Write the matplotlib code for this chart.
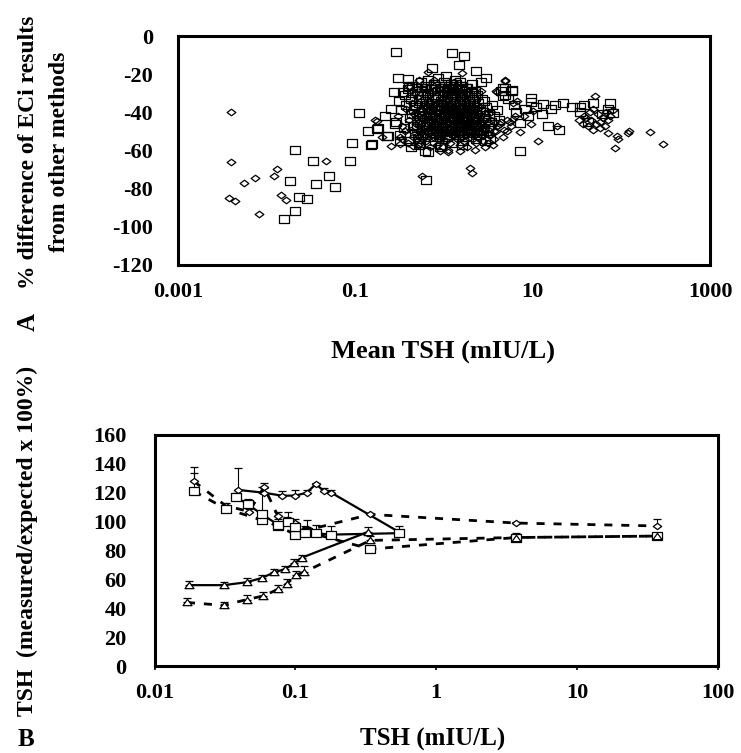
import numpy as np
import matplotlib
matplotlib.use("Agg")
import matplotlib.pyplot as plt
from matplotlib.path import Path
from matplotlib.ticker import FixedLocator, NullLocator

plt.rcParams['font.family'] = ['Liberation Serif', 'DejaVu Serif']
plt.rcParams['font.weight'] = 'bold'

# ---------------- panel A: % difference vs mean TSH ----------------
# squares (cloud + scattered points)
sq_tsh = [
    0.31, 0.33, 0.29, 0.36, 0.35, 0.32, 0.39, 0.37, 0.41, 0.40,
    0.44, 0.42, 0.46, 0.45, 0.47, 0.43, 0.50, 0.49, 0.52, 0.51,
    0.55, 0.53, 0.57, 0.58, 0.56, 0.54, 0.61, 0.59, 0.63, 0.62,
    0.66, 0.65, 0.68, 0.70, 0.67, 0.69, 0.73, 0.71, 0.76, 0.74,
    0.78, 0.80, 0.77, 0.82, 0.81, 0.79, 0.86, 0.84, 0.88, 0.87,
    0.90, 0.93, 0.91, 0.95, 0.97, 0.92, 1.00, 0.98, 1.03, 1.02,
    1.06, 1.08, 1.05, 1.10, 1.12, 1.07, 1.15, 1.14, 1.18, 1.17,
    1.21, 1.24, 1.20, 1.26, 1.28, 1.23, 1.32, 1.30, 1.35, 1.34,
    1.38, 1.41, 1.40, 1.44, 1.46, 1.42, 1.50, 1.48, 1.54, 1.52,
    1.58, 1.61, 1.57, 1.65, 1.68, 1.63, 1.72, 1.70, 1.76, 1.74,
    1.80, 1.84, 1.82, 1.88, 1.92, 1.86, 1.97, 1.95, 2.02, 2.00,
    2.06, 2.10, 2.08, 2.15, 2.20, 2.13, 2.26, 2.24, 2.32, 2.30,
    2.38, 2.44, 2.41, 2.52, 2.58, 2.48, 2.66, 2.63, 2.75, 2.72,
    2.85, 2.92, 3.00, 3.10, 3.22, 3.35, 3.50, 3.70, 3.95, 4.20,
    0.47, 0.52, 0.49, 0.56, 0.54, 0.60, 0.58, 0.64, 0.62, 0.68,
    0.66, 0.72, 0.70, 0.76, 0.74, 0.81, 0.79, 0.85, 0.83, 0.89,
    0.87, 0.94, 0.92, 0.99, 0.96, 1.04, 1.01, 1.09, 1.06, 1.13,
    1.11, 1.19, 1.16, 1.25, 1.22, 1.31, 1.28, 1.37, 1.34, 1.43,
    1.40, 1.50, 1.46, 1.57, 1.53, 1.64, 1.60, 1.72, 1.68, 1.80,
    1.76, 1.89, 1.84, 1.98, 1.93, 2.08, 2.03, 2.18, 2.13, 2.30,
    0.43, 0.50, 0.57, 0.63, 0.71, 0.78, 0.86, 0.95, 1.02, 1.10,
    1.18, 1.27, 1.36, 1.46, 1.55, 1.66, 1.78, 1.90, 2.05, 2.22,
    0.29, 1.22, 1.68, 1.49, 2.28, 0.74, 0.395, 0.275, 0.347, 0.40,
    0.216, 0.235, 0.61, 0.153, 0.174, 5.8, 4.67, 4.67, 4.4, 0.25,
    0.30, 0.28, 0.32, 0.52, 0.90, 1.60, 2.90, 3.30, 4.90, 4.90,
    5.8, 3.0, 5.3, 6.2, 2.6, 0.42, 0.111, 0.14, 0.18, 0.226,
    0.092, 0.149, 0.0207, 0.0333, 0.086, 0.050, 0.0185, 0.0363, 0.059, 0.023,
    0.0287, 0.0211, 0.0156, 0.62, 0.66, 7.2, 7.2, 9.7, 9.7, 13.0,
    16.3, 22.0, 27.5, 34.0, 34.0, 12.6, 15.0, 20.0, 48.0, 74.5,
    81.0, 8.2, 8.8, 6.5, 11.0, 18.0, 60.0, 42.0, 70.0, 38.0,
]
sq_pct = [
    -34, -39, -45, -31, -48, -52, -28, -36, -43, -55,
    -26, -33, -38, -47, -51, -41, -29, -44, -35, -54,
    -24, -31, -37, -42, -49, -56, -27, -45, -34, -52,
    -23, -30, -36, -40, -46, -53, -28, -43, -33, -50,
    -25, -32, -39, -44, -48, -55, -22, -37, -41, -52,
    -27, -34, -38, -45, -50, -57, -24, -31, -42, -47,
    -21, -29, -35, -40, -44, -53, -26, -37, -49, -33,
    -25, -30, -38, -43, -51, -56, -23, -35, -46, -40,
    -28, -33, -39, -45, -52, -48, -24, -36, -42, -31,
    -26, -32, -37, -43, -50, -55, -29, -40, -47, -34,
    -27, -31, -38, -44, -49, -53, -35, -41, -46, -30,
    -25, -33, -39, -43, -51, -36, -29, -47, -41, -54,
    -31, -35, -44, -49, -38, -52, -33, -46, -40, -50,
    -34, -43, -37, -48, -41, -45, -36, -42, -39, -44,
    -36, -42, -48, -33, -45, -39, -51, -36, -47, -42,
    -31, -38, -45, -50, -35, -41, -47, -33, -44, -39,
    -51, -36, -43, -29, -48, -39, -45, -34, -52, -41,
    -47, -32, -44, -37, -49, -42, -35, -46, -31, -39,
    -50, -34, -43, -38, -47, -33, -41, -45, -36, -40,
    -48, -36, -43, -39, -33, -45, -50, -37, -42, -47,
    -30, -27, -29, -26, -28, -25, -29, -27, -26, -28,
    -27, -29, -25, -28, -26, -30, -27, -31, -29, -32,
    -8.6, -8.9, -10.7, -15.3, -18.6, -16.8, -22.3, -29.1, -29.1, -26,
    -41.9, -52.4, -60.4, -56.8, -48.9, -28.2, -27, -31.4, -29, -38,
    -22, -46, -55, -57, -58, -57, -55, -54, -27, -31,
    -28.8, -22, -33, -36, -24, -58, -40.5, -50, -48, -52.5,
    -56, -57, -59.5, -65.6, -65.6, -73.2, -76.1, -77.5, -79.3, -84.4,
    -85.3, -91.9, -96, -75.5, -61, -60, -45.4, -32.3, -34.8, -35.8,
    -38.4, -35.3, -37.2, -37.2, -39.8, -41, -47.2, -49, -34.9, -35.3,
    -40.2, -38, -42, -40, -37, -36, -41, -45, -38, -36,
]

# diamonds
dm_tsh = [
    0.30, 0.34, 0.32, 0.37, 0.36, 0.40, 0.39, 0.43, 0.42, 0.46,
    0.45, 0.49, 0.48, 0.52, 0.51, 0.55, 0.54, 0.58, 0.57, 0.61,
    0.60, 0.64, 0.63, 0.67, 0.66, 0.70, 0.69, 0.73, 0.72, 0.77,
    0.76, 0.80, 0.79, 0.84, 0.83, 0.88, 0.86, 0.91, 0.90, 0.95,
    0.94, 0.99, 0.97, 1.03, 1.01, 1.07, 1.05, 1.11, 1.09, 1.15,
    1.13, 1.19, 1.17, 1.24, 1.22, 1.29, 1.27, 1.34, 1.31, 1.40,
    1.37, 1.45, 1.43, 1.51, 1.48, 1.57, 1.55, 1.63, 1.60, 1.70,
    1.67, 1.77, 1.74, 1.85, 1.82, 1.93, 1.90, 2.02, 1.98, 2.12,
    2.08, 2.22, 2.18, 2.35, 2.30, 2.48, 2.43, 2.62, 2.55, 2.80,
    2.72, 3.00, 2.92, 3.25, 3.15, 3.50, 3.40, 3.85, 3.70, 4.30,
    0.48, 0.53, 0.51, 0.58, 0.56, 0.62, 0.60, 0.67, 0.65, 0.71,
    0.69, 0.75, 0.73, 0.80, 0.78, 0.85, 0.82, 0.89, 0.87, 0.94,
    0.92, 0.99, 0.96, 1.04, 1.01, 1.09, 1.06, 1.14, 1.11, 1.20,
    1.17, 1.25, 1.22, 1.31, 1.28, 1.38, 1.35, 1.45, 1.41, 1.52,
    1.49, 1.60, 1.56, 1.68, 1.64, 1.77, 1.72, 1.87, 1.82, 1.97,
    1.93, 2.08, 2.02, 2.20, 2.14, 2.33, 2.27, 2.50, 2.42, 2.65,
    2.9, 3.1, 3.4, 3.7, 4.0, 4.4, 4.8, 5.2, 5.7, 6.3,
    0.66, 1.58, 0.525, 4.9, 3.92, 0.167, 0.333, 0.444, 0.537, 0.90,
    1.12, 1.96, 2.05, 2.24, 3.16, 6.0, 6.6, 0.32, 0.175, 0.56,
    0.47, 0.40, 0.78, 1.30, 2.60, 1.50, 2.90, 0.20, 0.25, 1.10,
    3.90, 4.90, 6.0, 10.2, 9.7, 11.6, 7.2, 18.6, 5.2, 4.6,
    8.0, 3.6, 5.5, 0.0040, 0.0040, 0.0055, 0.0074, 0.0120, 0.0130, 0.0038,
    0.0044, 0.0083, 0.0146, 0.0164, 0.047, 50, 44, 37, 40, 45,
    52, 58, 62, 55, 48, 65, 70, 75, 68, 80,
    42, 57, 48, 71, 88.5, 91, 85, 120, 123, 210,
    292, 33, 38,
]
dm_pct = [
    -42, -47, -53, -38, -50, -44, -56, -35, -49, -41,
    -53, -32, -46, -39, -57, -43, -50, -28, -54, -37,
    -48, -41, -55, -34, -51, -45, -58, -30, -47, -39,
    -53, -36, -49, -43, -57, -27, -46, -40, -54, -33,
    -50, -44, -58, -38, -47, -31, -55, -42, -51, -36,
    -48, -40, -56, -34, -52, -45, -29, -49, -38, -54,
    -43, -50, -36, -57, -46, -41, -53, -32, -48, -44,
    -55, -38, -50, -45, -58, -35, -49, -42, -53, -47,
    -39, -52, -44, -48, -56, -41, -53, -46, -37, -50,
    -55, -43, -49, -52, -45, -47, -40, -50, -54, -46,
    -40, -46, -52, -43, -49, -37, -53, -45, -41, -50,
    -44, -38, -52, -46, -42, -50, -35, -44, -48, -41,
    -53, -37, -46, -43, -51, -39, -48, -45, -34, -50,
    -43, -47, -37, -52, -41, -45, -50, -38, -47, -43,
    -51, -40, -46, -49, -37, -44, -52, -40, -47, -43,
    -50, -45, -38, -52, -42, -47, -44, -50, -40, -45,
    -48, -51, -44, -50, -47, -45, -49, -44, -47, -42,
    -19.1, -19.3, -23, -23, -29.3, -44.2, -54.2, -57.4, -56, -60.4,
    -59.5, -69, -72, -59.5, -56, -43.7, -34, -56.8, -44.4, -73.4,
    -30, -26, -23, -24, -29, -60, -58, -53, -57.5, -61,
    -28.8, -23.5, -34.9, -39.3, -46.3, -55, -50.5, -47.2, -50, -53,
    -42, -57, -45, -40, -66.1, -77, -74.5, -73.2, -69.6, -84.9,
    -86.7, -93.2, -83.2, -85.8, -65.3, -31.4, -40, -46.3, -43, -44,
    -46, -45, -43, -41, -38, -47, -44, -42, -40, -39,
    -47, -48, -49.5, -50.7, -52.5, -54, -58.6, -50.7, -49.8, -50.3,
    -56.8, -44, -42,
]

# ---------------- panel B: recovery vs TSH ----------------
dia_solid_x = [0.039, 0.060, 0.080, 0.100, 0.120, 0.140, 0.160, 0.180, 0.54]
dia_solid_y = [122, 120, 118, 118, 120, 126, 121, 120, 93]
dia_solid_e = [15, 3, 3, 4, 2, 1, 2, 2, 4]

dia_dash_x = [0.019, 0.032, 0.047, 0.060, 0.075, 0.087, 0.100, 0.120, 0.34, 3.7, 37]
dia_dash_y = [128, 111, 107, 124, 104, 101, 99, 94, 105, 99, 97]
dia_dash_e = [10, 2, 2, 3, 3, 2, 3, 7, 1, 1, 5]

sq_solid_x = [0.038, 0.046, 0.058, 0.075, 0.088, 0.100, 0.117, 0.139, 0.178, 0.54]
sq_solid_y = [117, 112, 105, 98, 100, 96, 92, 92, 91, 92]
sq_solid_e = [3, 4, 19, 4, 7, 4, 5, 6, 6, 2]

sq_dash_x = [0.019, 0.032, 0.058, 0.075, 0.100, 0.120, 0.34, 3.7, 37]
sq_dash_y = [121, 109, 101, 97, 91, 93, 81, 89, 90]
sq_dash_e = [13, 2, 3, 3, 2, 3, 2, 3, 2]

tri_solid_x = [0.0175, 0.031, 0.045, 0.058, 0.071, 0.084, 0.098, 0.111, 0.33]
tri_solid_y = [56, 56, 58, 61, 65, 67, 71, 75, 93]
tri_solid_e = [3, 2, 3, 2, 2, 2, 3, 2, 3]

tri_dash_x = [0.0170, 0.031, 0.045, 0.059, 0.075, 0.087, 0.101, 0.115, 0.34, 3.7, 37]
tri_dash_y = [44, 42, 46, 48.5, 53, 57, 63, 65, 87, 89, 90]
tri_dash_e = [3, 2, 3, 3, 3, 3, 3, 4, 3, 2, 2]

# marker shapes (the scan is a bit wider than tall)
box = Path([(-1, -0.78), (1, -0.78), (1, 0.78), (-1, 0.78), (-1, -0.78)], closed=True)
dia = Path([(-1, 0), (0, 0.75), (1, 0), (0, -0.75), (-1, 0)], closed=True)
tri = Path([(-1, -0.7), (1, -0.7), (0, 0.7), (-1, -0.7)], closed=True)

W, H = 741, 753
fig = plt.figure(figsize=(W / 100, H / 100), dpi=100)

axA = fig.add_axes([178 / W, 1 - 265 / H, 532 / W, 229 / H])
axA.plot(sq_tsh, sq_pct, ls='none', marker=box, ms=6.6, mfc='none', mec='black', mew=0.9)
axA.plot(dm_tsh, dm_pct, ls='none', marker=dia, ms=6.3, mfc='none', mec='black', mew=0.9)
axA.set_xscale('log')
axA.set_xlim(0.001, 1000)
axA.set_ylim(-120, 0)
axA.xaxis.set_major_locator(FixedLocator([0.001, 0.1, 10, 1000]))
axA.set_xticklabels(['0.001', '0.1', '10', '1000'])
axA.xaxis.set_minor_locator(NullLocator())
axA.set_yticks(np.arange(-120, 1, 20))
axA.set_yticklabels([str(v) for v in range(-120, 1, 20)])
axA.tick_params(axis='both', length=0, labelsize=16)
axA.tick_params(axis='x', pad=12)
axA.tick_params(axis='y', pad=18)

axB = fig.add_axes([154.5 / W, 1 - 666 / H, 563.5 / W, 231 / H])


def series(ax, x, y, e, mk, ms, dashed):
    ax.errorbar(x, y, yerr=[np.zeros(len(e)), e], fmt='none', ecolor='black',
                elinewidth=0.8, capsize=3, capthick=0.9, zorder=2)
    if dashed:
        ax.plot(x, y, color='black', lw=2.0, dashes=(2.9, 3.2), zorder=3)
    else:
        ax.plot(x, y, color='black', lw=1.6, zorder=3)
    ax.plot(x, y, ls='none', marker=mk, ms=ms, mfc='white', mec='black', mew=0.9, zorder=4)


series(axB, dia_dash_x, dia_dash_y, dia_dash_e, dia, 6.0, True)
series(axB, sq_dash_x, sq_dash_y, sq_dash_e, box, 7.0, True)
series(axB, tri_dash_x, tri_dash_y, tri_dash_e, tri, 6.5, True)
series(axB, dia_solid_x, dia_solid_y, dia_solid_e, dia, 6.0, False)
series(axB, sq_solid_x, sq_solid_y, sq_solid_e, box, 7.0, False)
series(axB, tri_solid_x, tri_solid_y, tri_solid_e, tri, 6.5, False)

axB.set_xscale('log')
axB.set_xlim(0.01, 100)
axB.set_ylim(0, 160)
axB.xaxis.set_major_locator(FixedLocator([0.01, 0.1, 1, 10, 100]))
axB.set_xticklabels(['0.01', '0.1', '1', '10', '100'])
axB.xaxis.set_minor_locator(NullLocator())
axB.set_yticks(np.arange(0, 161, 20))
axB.set_yticklabels([str(v) for v in range(0, 161, 20)])
axB.tick_params(axis='both', labelsize=16)
axB.tick_params(axis='x', direction='out', length=3, width=1.2, pad=9)
axB.tick_params(axis='y', length=0, pad=20)

for ax in (axA, axB):
    for s in ax.spines.values():
        s.set_linewidth(2.2)

fig.text(44 / W, 1 - 152 / H, "% difference of ECi results\nfrom other methods",
         rotation=90, ha='center', va='center', multialignment='center',
         fontsize=17, linespacing=1.6)
fig.text(443 / W, 1 - 352 / H, "Mean TSH (mIU/L)", ha='center', va='center', fontsize=19)
fig.text(28 / W, 1 - 322 / H, "A", rotation=90, ha='center', va='center', fontsize=18)

fig.text(27 / W, 1 - 541 / H, "TSH  (measured/expected x 100%)", rotation=90,
         ha='center', va='center', fontsize=17)
fig.text(433 / W, 1 - 746 / H, "TSH (mIU/L)", ha='center', va='baseline', fontsize=18)
fig.text(26 / W, 1 - 746 / H, "B", ha='center', va='baseline', fontsize=18)

fig.savefig("out.png", dpi=100)
